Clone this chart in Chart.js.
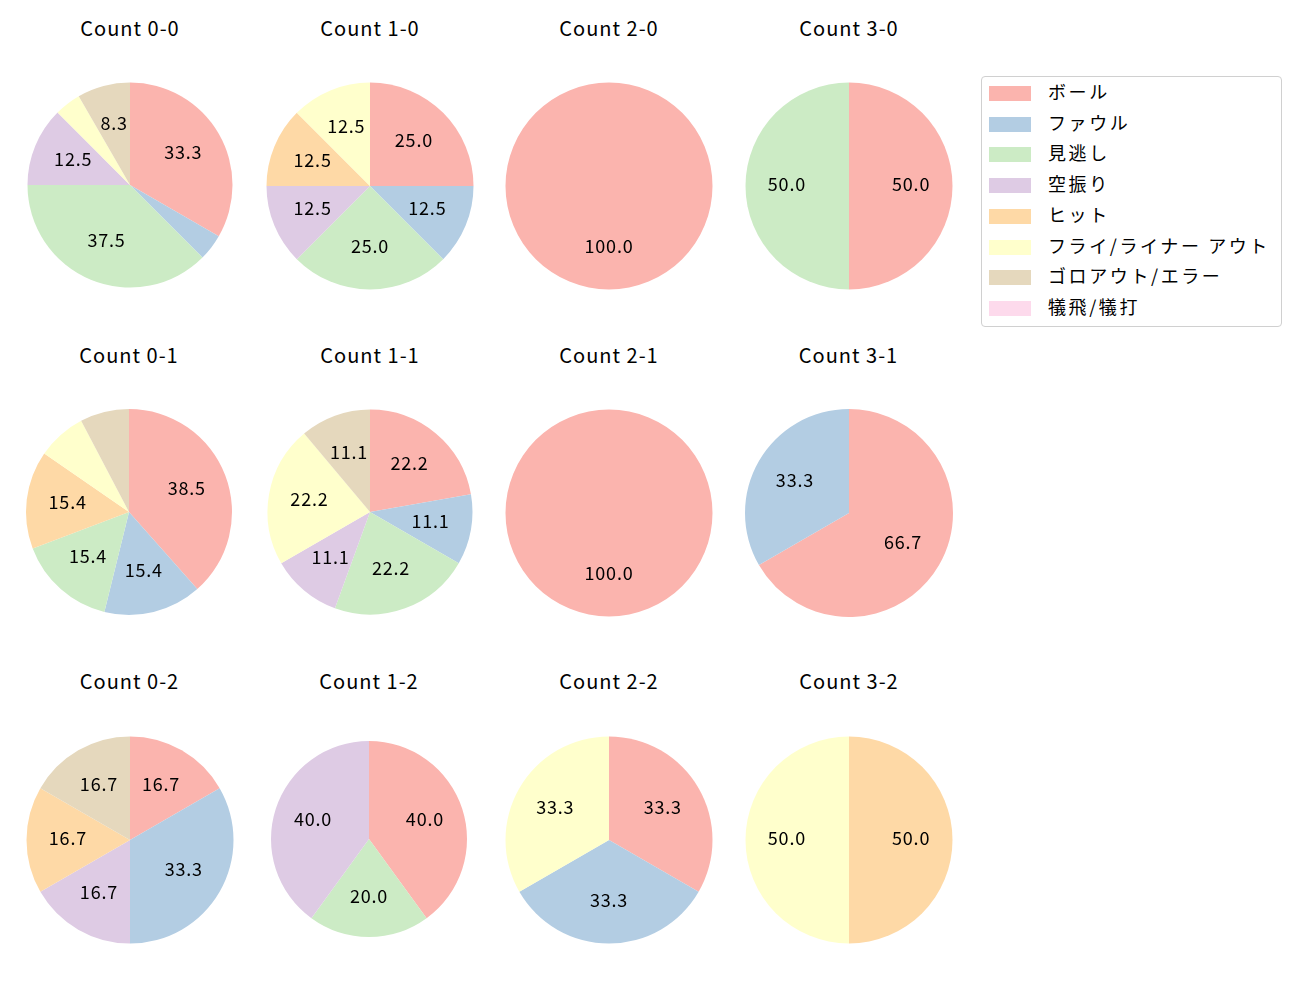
<!DOCTYPE html>
<html>
<head>
<meta charset="utf-8">
<script src="https://cdn.jsdelivr.net/npm/chart.js@4.4.1/dist/chart.umd.min.js"></script>
<style>
    body { margin: 0; background: #ffffff; }
    #stage { position: relative; width: 1300px; height: 1000px; font-family: 'Noto Sans CJK JP', 'Noto Sans', sans-serif; color: #000; }
    .pie { position: absolute; }
    .title { position: absolute; width: 200px; text-align: center; font-size: 20px; line-height: 24px; letter-spacing: 1px; }
    #legend { position: absolute; left: 981px; top: 76px; width: 301px; height: 251px; border: 1px solid #d0d0d0; border-radius: 4px; box-sizing: border-box; }
    .item { position: absolute; left: 0; height: 20px; }
    .patch { position: absolute; left: 7px; top: 2px; width: 42px; height: 15px; }
    .name { position: absolute; left: 66px; top: -5px; font-size: 18px; line-height: 24px; letter-spacing: 2.6px; white-space: nowrap; }
</style>
</head>
<body>
<div id="stage"></div>
<script>
// 球種の結果カテゴリ
const categories = ['ボール', 'ファウル', '見逃し', '空振り', 'ヒット', 'フライ/ライナー アウト', 'ゴロアウト/エラー', '犠飛/犠打'];
const colors = ['#fbb4ae', '#b3cde3', '#ccebc5', '#decbe4', '#fed9a6', '#ffffcc', '#e5d8bd', '#fddaec'];

// 各カウントの件数 (categories と同じ順)
const count00 = [8, 1, 9, 3, 0, 1, 2, 0];
const count10 = [2, 1, 2, 1, 1, 1, 0, 0];
const count20 = [1, 0, 0, 0, 0, 0, 0, 0];
const count30 = [1, 0, 1, 0, 0, 0, 0, 0];
const count01 = [5, 2, 2, 0, 2, 1, 1, 0];
const count11 = [2, 1, 2, 1, 0, 2, 1, 0];
const count21 = [1, 0, 0, 0, 0, 0, 0, 0];
const count31 = [2, 1, 0, 0, 0, 0, 0, 0];
const count02 = [1, 2, 0, 1, 1, 0, 1, 0];
const count12 = [2, 0, 1, 2, 0, 0, 0, 0];
const count22 = [1, 1, 0, 0, 0, 1, 0, 0];
const count32 = [0, 0, 0, 0, 1, 1, 0, 0];

const panels = [
    { title: 'Count 0-0', data: count00, cx: 130, cy: 185, r: 102.5 },
    { title: 'Count 1-0', data: count10, cx: 370, cy: 186, r: 103.5 },
    { title: 'Count 2-0', data: count20, cx: 609, cy: 186, r: 103.5 },
    { title: 'Count 3-0', data: count30, cx: 849, cy: 186, r: 103.5 },
    { title: 'Count 0-1', data: count01, cx: 129, cy: 512, r: 103 },
    { title: 'Count 1-1', data: count11, cx: 370, cy: 511.5, r: 102.5 },
    { title: 'Count 2-1', data: count21, cx: 609, cy: 512.5, r: 103.5 },
    { title: 'Count 3-1', data: count31, cx: 848.5, cy: 512.5, r: 104 },
    { title: 'Count 0-2', data: count02, cx: 129.5, cy: 839.5, r: 103.5 },
    { title: 'Count 1-2', data: count12, cx: 369, cy: 839, r: 98 },
    { title: 'Count 2-2', data: count22, cx: 609, cy: 839.5, r: 103.5 },
    { title: 'Count 3-2', data: count32, cx: 849, cy: 839.5, r: 103.5 }
];
const titleY = [28, 355, 681];

// 扇形の中に割合を描く
const pctLabels = {
    id: 'pctLabels',
    afterDatasetsDraw(chart) {
        const ctx = chart.ctx;
        const values = chart.data.datasets[0].data;
        const total = values.reduce((a, b) => a + b, 0);
        const meta = chart.getDatasetMeta(0);
        ctx.save();
        ctx.font = "18px 'Noto Sans CJK JP', sans-serif";
        ctx.letterSpacing = '0.8px';
        ctx.fillStyle = '#000';
        ctx.textAlign = 'center';
        ctx.textBaseline = 'middle';
        meta.data.forEach((arc, i) => {
            const pct = values[i] / total * 100;
            if (pct < 8) return;
            const p = arc.getProps(['x', 'y', 'startAngle', 'endAngle', 'outerRadius'], true);
            const mid = (p.startAngle + p.endAngle) / 2;
            const d = p.outerRadius * 0.6;
            ctx.fillText(pct.toFixed(1), p.x + Math.cos(mid) * d, p.y + Math.sin(mid) * d - 2);
        });
        ctx.restore();
    }
};

const stage = document.getElementById('stage');
const size = 240;

panels.forEach((panel, idx) => {
    const t = document.createElement('div');
    t.className = 'title';
    t.textContent = panel.title;
    t.style.left = (panel.cx - 100) + 'px';
    t.style.top = (titleY[Math.floor(idx / 4)] - 12) + 'px';
    stage.appendChild(t);

    const canvas = document.createElement('canvas');
    canvas.className = 'pie';
    canvas.width = size;
    canvas.height = size;
    canvas.style.left = (panel.cx - size / 2) + 'px';
    canvas.style.top = (panel.cy - size / 2) + 'px';
    stage.appendChild(canvas);

    new Chart(canvas, {
        type: 'pie',
        data: {
            labels: categories,
            datasets: [{
                data: panel.data,
                backgroundColor: colors,
                borderWidth: 0
            }]
        },
        options: {
            responsive: false,
            animation: false,
            radius: panel.r,
            layout: { padding: 0 },
            plugins: {
                legend: { display: false },
                tooltip: { enabled: false }
            }
        },
        plugins: [pctLabels]
    });
});

// 凡例
const legend = document.createElement('div');
legend.id = 'legend';
categories.forEach((name, i) => {
    const item = document.createElement('div');
    item.className = 'item';
    item.style.top = (7 + i * 30.7) + 'px';
    item.innerHTML = '<div class="patch" style="background:' + colors[i] + '"></div><div class="name">' + name + '</div>';
    legend.appendChild(item);
});
stage.appendChild(legend);
</script>
</body>
</html>
